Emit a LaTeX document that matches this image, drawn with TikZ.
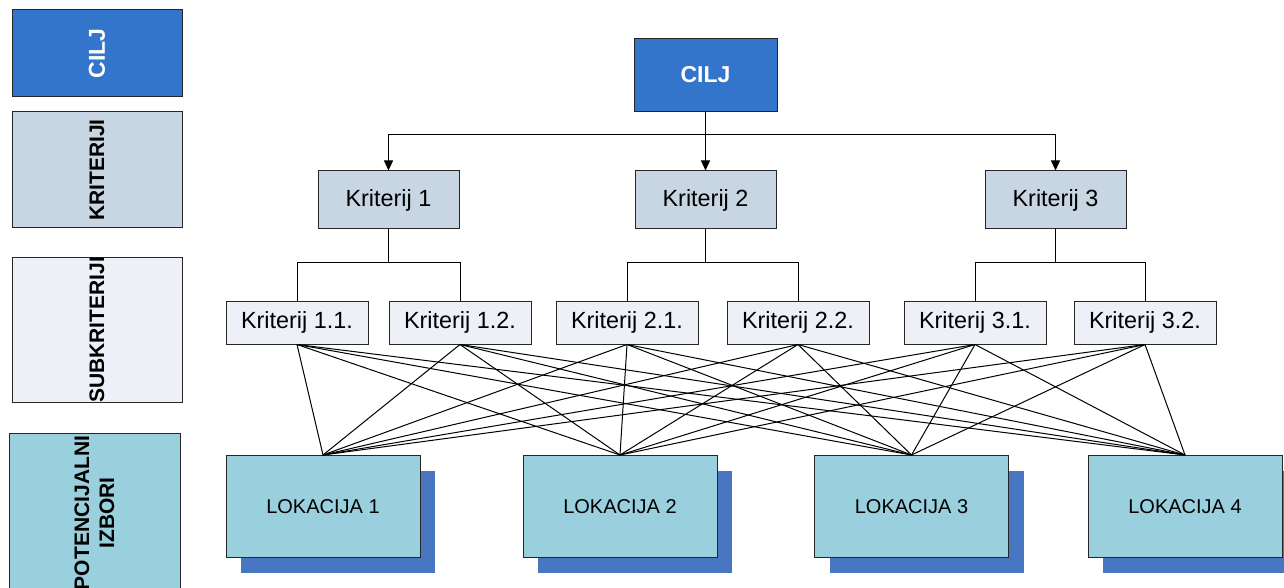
\documentclass[tikz,border=0pt]{standalone}
\usepackage{fontspec}
\setmainfont{Liberation Sans}
\usetikzlibrary{arrows.meta,shadows}
\definecolor{cblue}{RGB}{52,117,204}
\definecolor{ckrit}{RGB}{200,213,227}
\definecolor{csub}{RGB}{237,240,246}
\definecolor{cloc}{RGB}{154,208,222}
\definecolor{cshad}{RGB}{72,118,192}
\tikzset{
  box/.style ={rectangle,draw=black!85,line width=0.5pt,inner sep=0pt},
  goal/.style={box,fill=cblue,text=white,font=\fontsize{11.5}{13}\selectfont\bfseries,minimum width=71.5pt,minimum height=36.5pt},
  krit/.style={box,fill=ckrit,font=\fontsize{11.7}{14}\selectfont,minimum width=70.5pt,minimum height=29pt},
  sub/.style ={box,fill=csub,font=\fontsize{11.7}{14}\selectfont,minimum width=71pt,minimum height=21.5pt},
  loc/.style ={box,fill=cloc,font=\fontsize{10}{12}\selectfont,minimum width=97pt,minimum height=51pt,
               drop shadow={shadow xshift=7.5pt,shadow yshift=-7.5pt,fill=cshad,opacity=1}},
  side/.style={box,rotate=90,font=\fontsize{10.5}{12.5}\selectfont\bfseries,align=center},
  arr/.style ={-{Triangle[length=5pt,width=4.5pt]},line width=0.5pt},
  link/.style={line width=0.5pt},
}

\begin{document}
\begin{tikzpicture}[x=0.5pt,y=-0.5pt]
  \useasboundingbox (0,0) rectangle (1284,588);
  \clip (0,0) rectangle (1284,588);
  % levels on the left
  \node[side,fill=cblue,text=white,font=\fontsize{11.5}{13}\selectfont\bfseries,minimum width=43.5pt,minimum height=85pt] (lcilj) at (97,53.5){CILJ};
  \node[side,fill=ckrit,minimum width=58pt,minimum height=85pt] (lkrit) at (97,170){KRITERIJI};
  \node[side,fill=csub,minimum width=72pt,minimum height=85pt] (lsub) at (97,330){SUBKRITERIJI};
  \node[side,fill=cloc,minimum width=80pt,minimum height=85.5pt] (lizb) at (94.5,513){POTENCIJALNI\\IZBORI};

  % goal and criteria
  \node[goal] (cilj) at (705.5,75){CILJ};
  \node[krit] (k1) at (388.5,200){Kriterij 1};
  \node[krit] (k2) at (705.5,200){Kriterij 2};
  \node[krit] (k3) at (1055.5,200){Kriterij 3};
  \draw[arr] (cilj.south) -- ++(0,23) -| (k1.north);
  \draw[arr] (cilj.south) -- (k2.north);
  \draw[arr] (cilj.south) -- ++(0,23) -| (k3.north);

  % subcriteria
  \node[sub] (s11) at (297,322.5){Kriterij 1.1.};
  \node[sub] (s12) at (460,322.5){Kriterij 1.2.};
  \node[sub] (s21) at (627,322.5){Kriterij 2.1.};
  \node[sub] (s22) at (798,322.5){Kriterij 2.2.};
  \node[sub] (s31) at (975,322.5){Kriterij 3.1.};
  \node[sub] (s32) at (1145,322.5){Kriterij 3.2.};
  \draw[link] (k1.south) -- ++(0,33) -| (s11.north);
  \draw[link] (k1.south) -- ++(0,33) -| (s12.north);
  \draw[link] (k2.south) -- ++(0,33) -| (s21.north);
  \draw[link] (k2.south) -- ++(0,33) -| (s22.north);
  \draw[link] (k3.south) -- ++(0,33) -| (s31.north);
  \draw[link] (k3.south) -- ++(0,33) -| (s32.north);

  % locations
  \node[loc] (l1) at (323,506.5){LOKACIJA 1};
  \node[loc] (l2) at (620,506.5){LOKACIJA 2};
  \node[loc] (l3) at (911.5,506.5){LOKACIJA 3};
  \node[loc] (l4) at (1185,506.5){LOKACIJA 4};
  \foreach \s in {s11,s12,s21,s22,s31,s32}
    \foreach \l in {l1,l2,l3,l4}
      \draw[link] (\s.south) -- (\l.north);
\end{tikzpicture}
\end{document}
